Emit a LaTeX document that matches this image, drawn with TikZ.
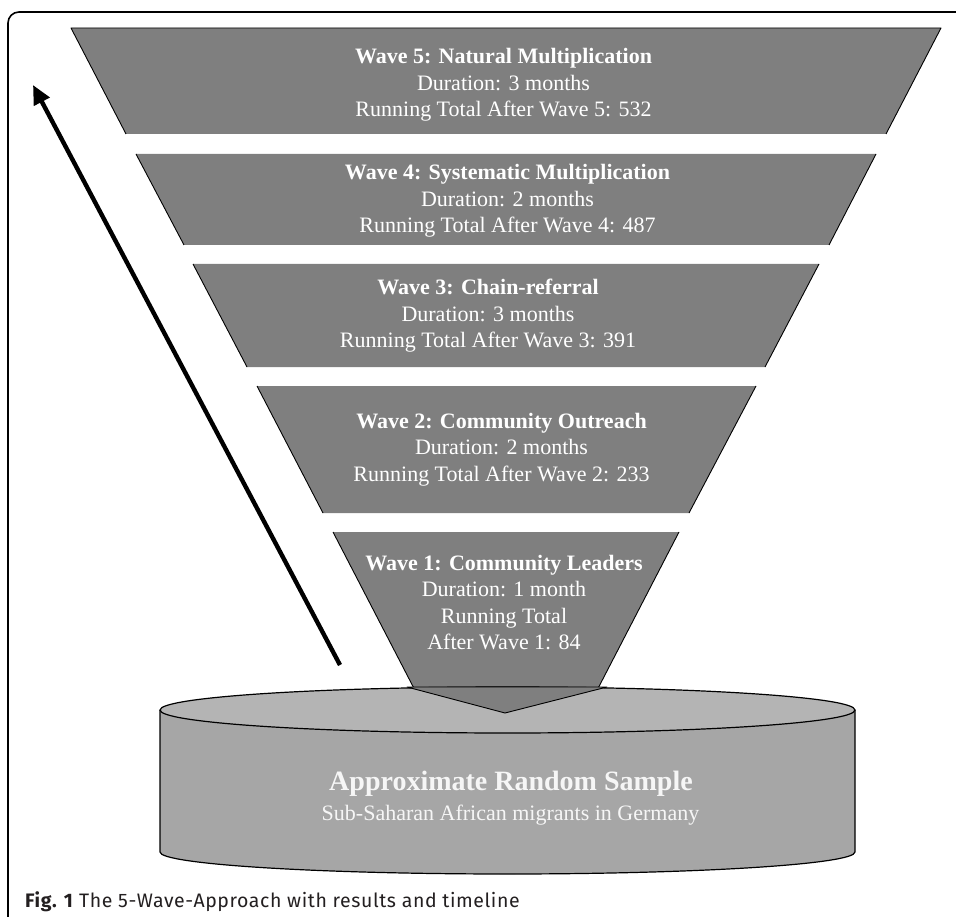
\documentclass[tikz,border=0pt]{standalone}
\usepackage{fontspec}
\setmainfont{Liberation Serif}
\newfontfamily\capfont[LetterSpace=3]{Fira Sans}
\usetikzlibrary{arrows.meta}
\definecolor{funnel}{HTML}{7F7F7F}
\definecolor{cyltop}{HTML}{B4B4B4}
\definecolor{cylside}{HTML}{A6A6A6}
\definecolor{captext}{HTML}{231F20}
\definecolor{softwhite}{HTML}{F6F6F6}
\begin{document}
\begin{tikzpicture}[x=1pt,y=-1pt,
  band/.style={fill=funnel},
  rim/.style={draw=black,line width=0.9pt,line join=round},
  cylline/.style={draw=black,line width=1.2pt},
  wavetext/.style={text=white,align=center,inner sep=0pt,
    font=\fontsize{22}{26.5}\selectfont},
]
\useasboundingbox (0,0) rectangle (956,917);

% page frame, open to the right and bottom
\begin{scope}
  \clip (0,0) rectangle (956,917);
  \draw[line width=1.6pt,rounded corners=11pt] (8,12) rectangle (990,950);
\end{scope}

% Wave 5
\fill[band] (71,28) -- (941,28) -- (886,134) -- (126,134) -- cycle;
\draw[rim] (126,134) -- (71,28) -- (941,28) -- (886,134);
% Wave 4
\fill[band] (136,154) -- (876,154) -- (829,245) -- (184,245) -- cycle;
\draw[rim] (184,245) -- (136,154);
\draw[rim] (876,154) -- (829,245);
% Wave 3
\fill[band] (193,264) -- (819,264) -- (765,367) -- (247,367) -- cycle;
\draw[rim] (247,367) -- (193,264);
\draw[rim] (819,264) -- (765,367);
% Wave 2
\fill[band] (257,386) -- (756,386) -- (689,513) -- (323,513) -- cycle;
\draw[rim] (323,513) -- (257,386);
\draw[rim] (756,386) -- (689,513);
% Wave 1 (its lower end disappears behind the cylinder top)
\fill[band] (333,532) -- (679,532) -- (592,700) -- (420,700) -- cycle;
\draw[rim] (420,700) -- (333,532);
\draw[rim] (679,532) -- (592,700);

% cylinder: side wall
\fill[cylside] (160,710) -- (160,852)
  arc[start angle=180,end angle=360,x radius=347.5pt,y radius=22pt]
  -- (855,710) -- cycle;
\draw[cylline] (160,710) -- (160,852)
  arc[start angle=180,end angle=360,x radius=347.5pt,y radius=22pt]
  -- (855,710);
% cylinder: top face
\filldraw[fill=cyltop,cylline] (507.5,710) ellipse[x radius=347.5pt,y radius=23pt];

% funnel tip resting in the cylinder
\filldraw[fill=funnel,rim] (407,687) -- (607,687) -- (505,713) -- cycle;

% labels of the waves
\node[wavetext] (w5) at (503.5,85) {\textbf{Wave 5: Natural Multiplication}\\Duration: 3 months\\Running Total After Wave 5: 532};
\node[wavetext] (w4) at (507.5,201) {\textbf{Wave 4: Systematic Multiplication}\\Duration: 2 months\\Running Total After Wave 4: 487};
\node[wavetext] (w3) at (488,316) {\textbf{Wave 3: Chain-referral}\\Duration: 3 months\\Running Total After Wave 3: 391};
\node[wavetext] (w2) at (501.5,449.5) {\textbf{Wave 2: Community Outreach}\\Duration: 2 months\\Running Total After Wave 2: 233};
\node[wavetext] (w1) at (504,602.5) {\textbf{Wave 1: Community Leaders}\\Duration: 1 month\\Running Total\\After Wave 1: 84};

% label of the cylinder
\node[anchor=base,inner sep=0pt,text=softwhite,font=\bfseries\fontsize{28}{34}\selectfont] (samplehead) at (511,790) {Approximate Random Sample};
\node[anchor=base,inner sep=0pt,text=softwhite,font=\fontsize{22}{26}\selectfont] (samplesub) at (510.5,820) {Sub-Saharan African migrants in Germany};

% direction of growth
\coordinate (arrowtail) at (340,665);
\coordinate (arrowtip) at (33,85);
\draw[line width=4.4pt,-{Triangle[length=19pt,width=17pt]}] (arrowtail) -- (arrowtip);

% caption
\node[anchor=base west,inner sep=0pt,text=captext,font=\capfont\fontsize{19.5}{23}\selectfont] (caption) at (25,907) {\textbf{Fig. 1} The 5-Wave-Approach with results and timeline};
\end{tikzpicture}
\end{document}
